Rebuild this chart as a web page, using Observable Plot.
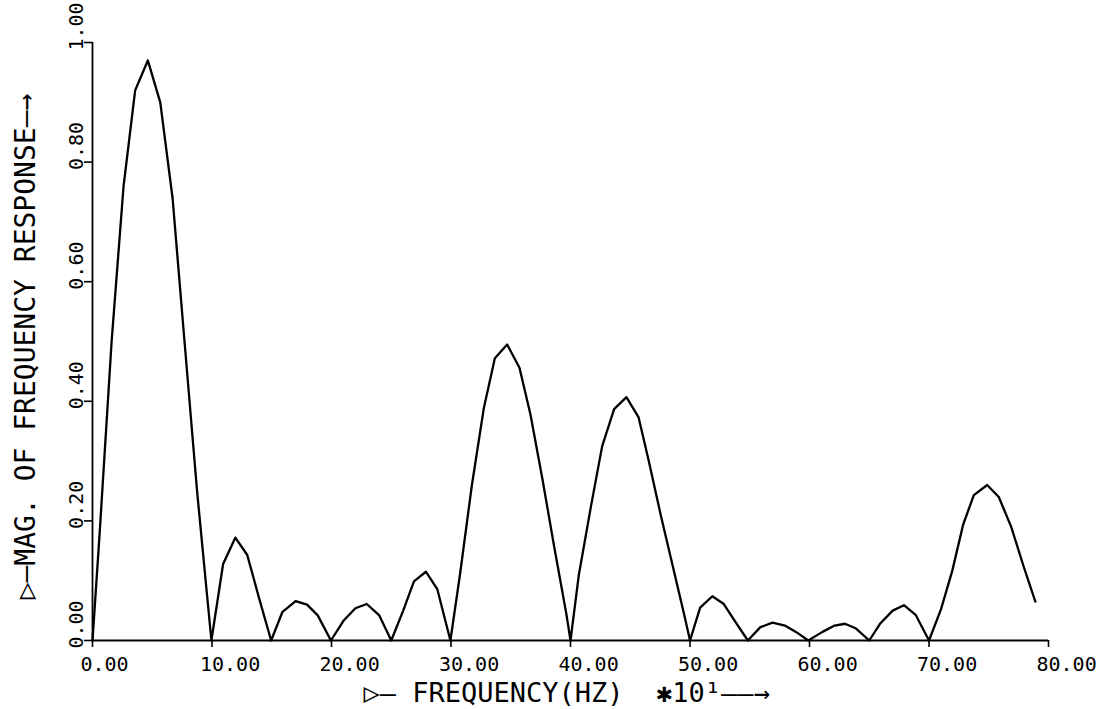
<!DOCTYPE html>
<html>
<head>
<meta charset="utf-8">
<script src="https://cdn.jsdelivr.net/npm/d3@7"></script>
<script src="https://cdn.jsdelivr.net/npm/@observablehq/plot@0.6"></script>
<style>
  html, body { margin: 0; padding: 0; background: #fff; }
  svg { display: block; }
</style>
</head>
<body>
<div id="chart"></div>
<script>
// Frequency (×10 Hz) of each plotted vertex
const freq = [
  0, 0.6, 1.6, 2.6, 3.57, 4.63, 5.67, 6.7, 7.7, 8.75, 9.95,
  10.93, 11.95, 12.95, 13.95, 14.95,
  15.9, 17.0, 17.95, 18.85, 19.95,
  21.0, 22.0, 22.95, 24.0, 25.0,
  26.0, 26.9, 27.9, 28.85, 29.95,
  30.75, 31.75, 32.75, 33.67, 34.7, 35.73, 36.65, 37.65, 38.65, 39.65, 40.0,
  40.7, 41.7, 42.65, 43.65, 44.68, 45.7, 46.55, 47.55, 48.55, 49.55, 50.0,
  50.85, 51.87, 52.83, 53.8, 54.84,
  55.87, 56.9, 57.94, 58.9, 59.9,
  61.05, 62.1, 62.97, 63.9, 65.0,
  65.9, 66.96, 67.9, 68.88, 70.0,
  71.0, 71.94, 72.86, 73.75, 74.87, 75.84, 76.88, 77.9, 78.9
];
// Magnitude of frequency response at each vertex
const mag = [
  0, 0.18, 0.50, 0.76, 0.92, 0.97, 0.90, 0.74, 0.50, 0.25, 0,
  0.128, 0.172, 0.143, 0.07, 0,
  0.048, 0.066, 0.06, 0.042, 0,
  0.033, 0.054, 0.061, 0.042, 0,
  0.05, 0.099, 0.115, 0.086, 0,
  0.11, 0.26, 0.389, 0.472, 0.495, 0.456, 0.378, 0.27, 0.155, 0.045, 0,
  0.11, 0.223, 0.325, 0.387, 0.407, 0.373, 0.30, 0.21, 0.125, 0.04, 0,
  0.055, 0.074, 0.061, 0.031, 0,
  0.022, 0.03, 0.025, 0.014, 0,
  0.014, 0.025, 0.028, 0.02, 0,
  0.028, 0.05, 0.059, 0.043, 0,
  0.052, 0.116, 0.194, 0.243, 0.26, 0.24, 0.19, 0.125, 0.065
];
const xTicks = [0, 10, 20, 30, 40, 50, 60, 70, 80];
const xTickLabels = ["0.00", "10.00", "20.00", "30.00", "40.00", "50.00", "60.00", "70.00", "80.00"];
const yTicks = [0, 0.2, 0.4, 0.6, 0.8, 1.0];
const yTickLabels = ["0.00", "0.20", "0.40", "0.60", "0.80", "1.00"];
const xTitle = "▷— FREQUENCY(HZ)  ✱10¹——→";
const yTitle = "▷—MAG. OF FREQUENCY RESPONSE—→";

const data = freq.map((f, i) => ({f, v: mag[i]}));
const font = "'DejaVu Sans Mono', 'Liberation Mono', monospace";

const chart = Plot.plot({
  width: 1114,
  height: 709,
  marginLeft: 92,
  marginRight: 66,
  marginTop: 42,
  marginBottom: 69,
  x: {domain: [0, 80]},
  y: {domain: [0, 1]},
  style: {background: "#fff", color: "#000", fontFamily: font},
  marks: [
    Plot.ruleY([0], {stroke: "#000", strokeWidth: 1.8}),
    Plot.ruleX([0], {stroke: "#000", strokeWidth: 1.8}),
    Plot.axisX({ticks: xTicks, tickSize: 7, tickFormat: () => "", label: null, strokeWidth: 1.6}),
    Plot.axisY({ticks: yTicks, tickSize: 8, tickFormat: () => "", label: null, strokeWidth: 1.6}),
    Plot.text(xTicks, {
      x: d => d, text: (d, i) => xTickLabels[i],
      frameAnchor: "bottom", dx: -12, dy: 30,
      textAnchor: "start", lineAnchor: "bottom",
      fontSize: 20, fontFamily: font, fill: "#000"
    }),
    Plot.text(yTicks, {
      y: d => d, text: (d, i) => yTickLabels[i],
      frameAnchor: "left", dx: -10, dy: 8, rotate: -90,
      textAnchor: "start", lineAnchor: "bottom",
      fontSize: 20, fontFamily: font, fill: "#000"
    }),
    Plot.line(data, {x: "f", y: "v", stroke: "#000", strokeWidth: 2.3, strokeLinejoin: "round"}),
    Plot.text([xTitle], {
      text: d => d, frameAnchor: "bottom-left", dx: 271, dy: 61,
      textAnchor: "start", lineAnchor: "bottom",
      fontSize: 27, fontFamily: font, fill: "#000"
    }),
    Plot.text([yTitle], {
      text: d => d, frameAnchor: "left", dx: -58, dy: 5, rotate: -90,
      textAnchor: "middle", lineAnchor: "bottom",
      fontSize: 28, fontFamily: font, fill: "#000"
    })
  ]
});
document.getElementById("chart").appendChild(chart);
</script>
</body>
</html>
